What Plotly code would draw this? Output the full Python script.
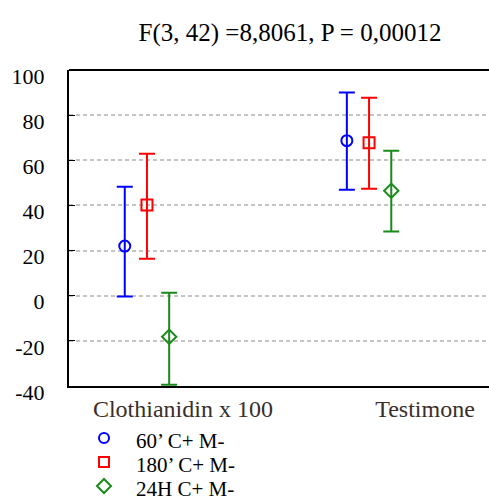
import plotly.graph_objects as go

groups = ["Clothianidin x 100", "Testimone"]
series_names = ["60\u2019 C+ M-", "180\u2019 C+ M-", "24H C+ M-"]
means = {
    "60\u2019 C+ M-": [22.0, 68.7],
    "180\u2019 C+ M-": [40.2, 67.8],
    "24H C+ M-": [-18.2, 46.5],
}
upper = {
    "60\u2019 C+ M-": [48.3, 90.0],
    "180\u2019 C+ M-": [62.9, 87.7],
    "24H C+ M-": [1.3, 64.2],
}
lower = {
    "60\u2019 C+ M-": [-0.3, 47.0],
    "180\u2019 C+ M-": [16.4, 47.4],
    "24H C+ M-": [-39.4, 28.4],
}
colors = ["#0000ff", "#ff0000", "#1a8a1a"]
symbols = ["circle-open", "square-open", "diamond-open"]
offsets = [-0.1, 0.0, 0.1]
y_ticks = [-40, -20, 0, 20, 40, 60, 80, 100]
y_ticktext = ["-40", "-20", "0", "20", "40", "60", "80", "100"]

serif = "Liberation Serif"
W, H = 489, 500
ML, MR, MT, MB = 69, 0, 70, 114
PW, PH = W - ML - MR, H - MT - MB

def px_x(px):
    return (px - ML) / PW

def px_y(py):
    return (H - MB - py) / PH

fig = go.Figure()
for i, name in enumerate(series_names):
    xs = [g + offsets[i] for g in range(len(groups))]
    m = means[name]
    up = [u - v for u, v in zip(upper[name], m)]
    lo = [v - l for l, v in zip(lower[name], m)]
    fig.add_trace(go.Scatter(
        x=xs, y=m, mode="markers", name=name, showlegend=False,
        marker=dict(symbol=symbols[i], size=11, color=colors[i], line=dict(width=2, color=colors[i])),
        error_y=dict(type="data", symmetric=False, array=up, arrayminus=lo,
                     color=colors[i], thickness=2, width=8),
    ))

# manual legend (symbols as shapes, labels as text)
legend_rows_y = [438, 462, 486]
leg_sym_x = 104
leg_text_x = 134
shapes = [dict(type="line", xref="paper", yref="paper", x0=0, x1=1, y0=1, y1=1,
               line=dict(color="black", width=2))]
annotations = []
for i, name in enumerate(series_names):
    cy = legend_rows_y[i]
    lw = dict(color=colors[i], width=2)
    xa, ya = px_x(leg_sym_x), px_y(cy)
    if symbols[i].startswith("circle"):
        shapes.append(dict(type="circle", xref="paper", yref="paper", xsizemode="pixel", ysizemode="pixel",
                           xanchor=xa, yanchor=ya, x0=-5, x1=5, y0=-5, y1=5, line=lw))
    elif symbols[i].startswith("square"):
        shapes.append(dict(type="rect", xref="paper", yref="paper", xsizemode="pixel", ysizemode="pixel",
                           xanchor=xa, yanchor=ya, x0=-5, x1=5, y0=-5, y1=5, line=lw))
    else:
        shapes.append(dict(type="path", xref="paper", yref="paper", xsizemode="pixel", ysizemode="pixel",
                           xanchor=xa, yanchor=ya, path="M -7 0 L 0 7 L 7 0 L 0 -7 Z", line=lw))
    annotations.append(dict(text=name, xref="paper", yref="paper", x=px_x(leg_text_x), y=px_y(cy + 3),
                            xanchor="left", yanchor="middle", showarrow=False,
                            font=dict(family=serif, size=21, color="black")))

fig.update_layout(
    width=W, height=H,
    margin=dict(l=ML, r=MR, t=MT, b=MB),
    paper_bgcolor="white", plot_bgcolor="white",
    title=dict(text="F(3, 42) =8,8061, P = 0,00012", x=0.593, xanchor="center", y=0.935, yanchor="middle",
               font=dict(family=serif, size=25, color="black")),
    showlegend=False,
    xaxis=dict(range=[-0.351, 1.54], tickvals=[0.162, 1.252], ticktext=groups, automargin=False,
               showgrid=False, zeroline=False, showline=True, linecolor="black", linewidth=2,
               ticks="", ticklabelstandoff=0, tickfont=dict(family=serif, size=24, color="#3a2e2a")),
    yaxis=dict(range=[-40, 100], tickvals=y_ticks, ticktext=y_ticktext, automargin=False,
               showgrid=True, gridcolor="#c4c4c4", griddash="4px,3px",
               gridwidth=1.5, zeroline=False, showline=True, linecolor="black", linewidth=2,
               ticks="inside", ticklen=6, tickcolor="black", ticklabelshift=6, ticklabelstandoff=18,
               tickfont=dict(family=serif, size=22, color="black")),
    shapes=shapes,
    annotations=annotations,
)
fig.write_html("out.html", config={"displayModeBar": False},
               post_script="document.body.style.margin='0';document.body.style.overflow='hidden';")
